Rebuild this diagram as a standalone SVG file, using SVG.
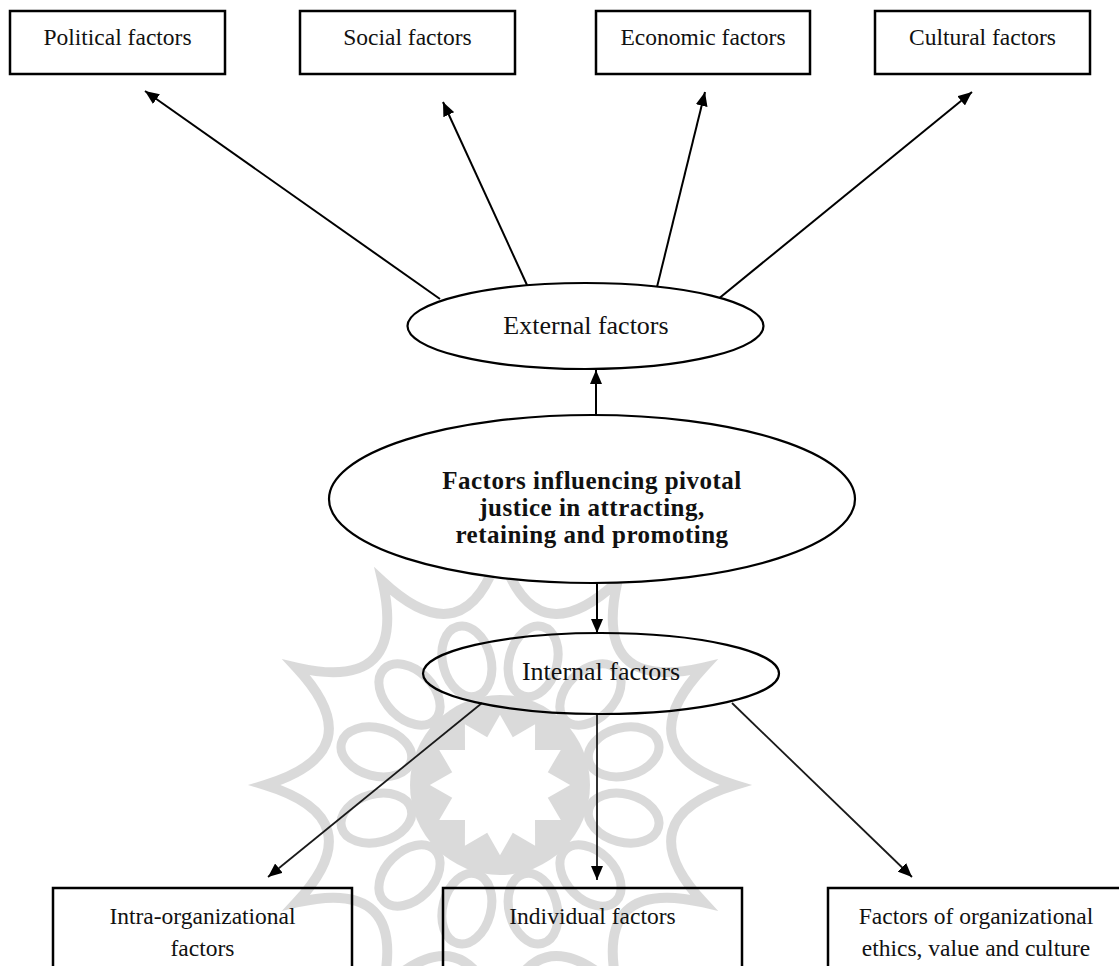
<svg xmlns="http://www.w3.org/2000/svg" width="1119" height="966" viewBox="0 0 1119 966">
<defs>
<marker id="ah" viewBox="0 0 14 12" refX="14" refY="6" markerWidth="14" markerHeight="12" markerUnits="userSpaceOnUse" orient="auto">
<path d="M0,0 L14,6 L0,12 z" fill="#000"/>
</marker>
<style>
.box{fill:#fff;stroke:#000;stroke-width:2.5}
.boxo{fill:none;stroke:#000;stroke-width:2.5}
.ell{fill:#fff;stroke:#000;stroke-width:2.2}
.ello{fill:none;stroke:#000;stroke-width:2.2}
.t{font-family:"Liberation Serif","Times New Roman",serif;font-size:23.5px;fill:#111;text-anchor:middle}
.tl{font-family:"Liberation Serif","Times New Roman",serif;font-size:26px;fill:#111;text-anchor:middle}
.tb{font-family:"Liberation Serif","Times New Roman",serif;font-size:25px;font-weight:bold;letter-spacing:0.5px;fill:#111;text-anchor:middle}
.c{stroke:#000;stroke-width:2;fill:none;marker-end:url(#ah)}
.c2{stroke:#1a1a1a;stroke-width:1.8;fill:none;marker-end:url(#ah)}
.wm{fill:none;stroke:#000}
</style>
</defs>
<rect width="1119" height="966" fill="#fff"/>
<g id="watermark" opacity="0.14" transform="translate(500,785)">
<circle cx="0" cy="0" r="90" fill="#000"/>
<polygon fill="#fff" points="0,-70.2 12.8,-47.8 35.1,-60.8 35,-35 60.8,-35.1 47.8,-12.8 70.2,0 47.8,12.8 60.8,35.1 35,35 35.1,60.8 12.8,47.8 0,70.2 -12.8,47.8 -35.1,60.8 -35,35 -60.8,35.1 -47.8,12.8 -70.2,0 -47.8,-12.8 -60.8,-35.1 -35,-35 -35.1,-60.8 -12.8,-47.8"/>
<g class="wm" stroke-width="9">
<ellipse cx="0" cy="-128" rx="24" ry="36" transform="rotate(15)"/>
<ellipse cx="0" cy="-128" rx="24" ry="36" transform="rotate(45)"/>
<ellipse cx="0" cy="-128" rx="24" ry="36" transform="rotate(75)"/>
<ellipse cx="0" cy="-128" rx="24" ry="36" transform="rotate(105)"/>
<ellipse cx="0" cy="-128" rx="24" ry="36" transform="rotate(135)"/>
<ellipse cx="0" cy="-128" rx="24" ry="36" transform="rotate(165)"/>
<ellipse cx="0" cy="-128" rx="24" ry="36" transform="rotate(195)"/>
<ellipse cx="0" cy="-128" rx="24" ry="36" transform="rotate(225)"/>
<ellipse cx="0" cy="-128" rx="24" ry="36" transform="rotate(255)"/>
<ellipse cx="0" cy="-128" rx="24" ry="36" transform="rotate(285)"/>
<ellipse cx="0" cy="-128" rx="24" ry="36" transform="rotate(315)"/>
<ellipse cx="0" cy="-128" rx="24" ry="36" transform="rotate(345)"/>
</g>
<path class="wm" stroke-width="10" stroke-linejoin="miter" stroke-miterlimit="20" d="M0,-235 Q33.6,-125.6 117.5,-203.5 Q91.9,-91.9 203.5,-117.5 Q125.6,-33.6 235,0 Q125.6,33.6 203.5,117.5 Q91.9,91.9 117.5,203.5 Q33.6,125.6 0,235 Q-33.6,125.6 -117.5,203.5 Q-91.9,91.9 -203.5,117.5 Q-125.6,33.6 -235,0 Q-125.6,-33.6 -203.5,-117.5 Q-91.9,-91.9 -117.5,-203.5 Q-33.6,-125.6 0,-235 Z"/>
</g>
<g id="connectors">
<path class="c" d="M440,299 L145,91"/>
<path class="c" d="M527,285 L443,102"/>
<path class="c" d="M657,287 L705,92"/>
<path class="c" d="M717,300 L972,92"/>
<path class="c" d="M596,415 L596,370"/>
<path class="c" d="M597,583 L597,633"/>
<path class="c2" d="M482,703 L268,877"/>
<path class="c2" d="M597,714 L597,880"/>
<path class="c2" d="M732,703 L912,877"/>
</g>
<g id="political">
<rect class="box" x="10" y="11" width="215" height="63"/>
<text class="t" x="117.5" y="45">Political factors</text>
</g>
<g id="social">
<rect class="box" x="300" y="11" width="215" height="63"/>
<text class="t" x="407.5" y="45">Social factors</text>
</g>
<g id="economic">
<rect class="box" x="596" y="11" width="214" height="63"/>
<text class="t" x="703" y="45">Economic factors</text>
</g>
<g id="cultural">
<rect class="box" x="875" y="11" width="215" height="63"/>
<text class="t" x="982.5" y="45">Cultural factors</text>
</g>
<g id="external">
<ellipse class="ell" cx="585.5" cy="326" rx="178" ry="43"/>
<text class="tl" x="586" y="334">External factors</text>
</g>
<g id="main">
<ellipse class="ell" cx="592" cy="499" rx="263" ry="84"/>
<text class="tb" x="592" y="489">Factors influencing pivotal</text>
<text class="tb" x="592" y="516">justice in attracting,</text>
<text class="tb" x="592" y="543">retaining and promoting</text>
</g>
<g id="internal">
<ellipse class="ello" cx="601" cy="673.5" rx="178" ry="40.5"/>
<text class="tl" x="601" y="680">Internal factors</text>
</g>
<g id="intra">
<rect class="boxo" x="53" y="888" width="299" height="100"/>
<text class="t" x="202.5" y="924">Intra-organizational</text>
<text class="t" x="202.5" y="956">factors</text>
</g>
<g id="individual">
<rect class="boxo" x="443" y="888" width="299" height="100"/>
<text class="t" x="592.5" y="924">Individual factors</text>
</g>
<g id="ethics">
<rect class="boxo" x="828" y="888" width="296" height="100"/>
<text class="t" x="976" y="924">Factors of organizational</text>
<text class="t" x="976" y="956">ethics, value and culture</text>
</g>
</svg>
